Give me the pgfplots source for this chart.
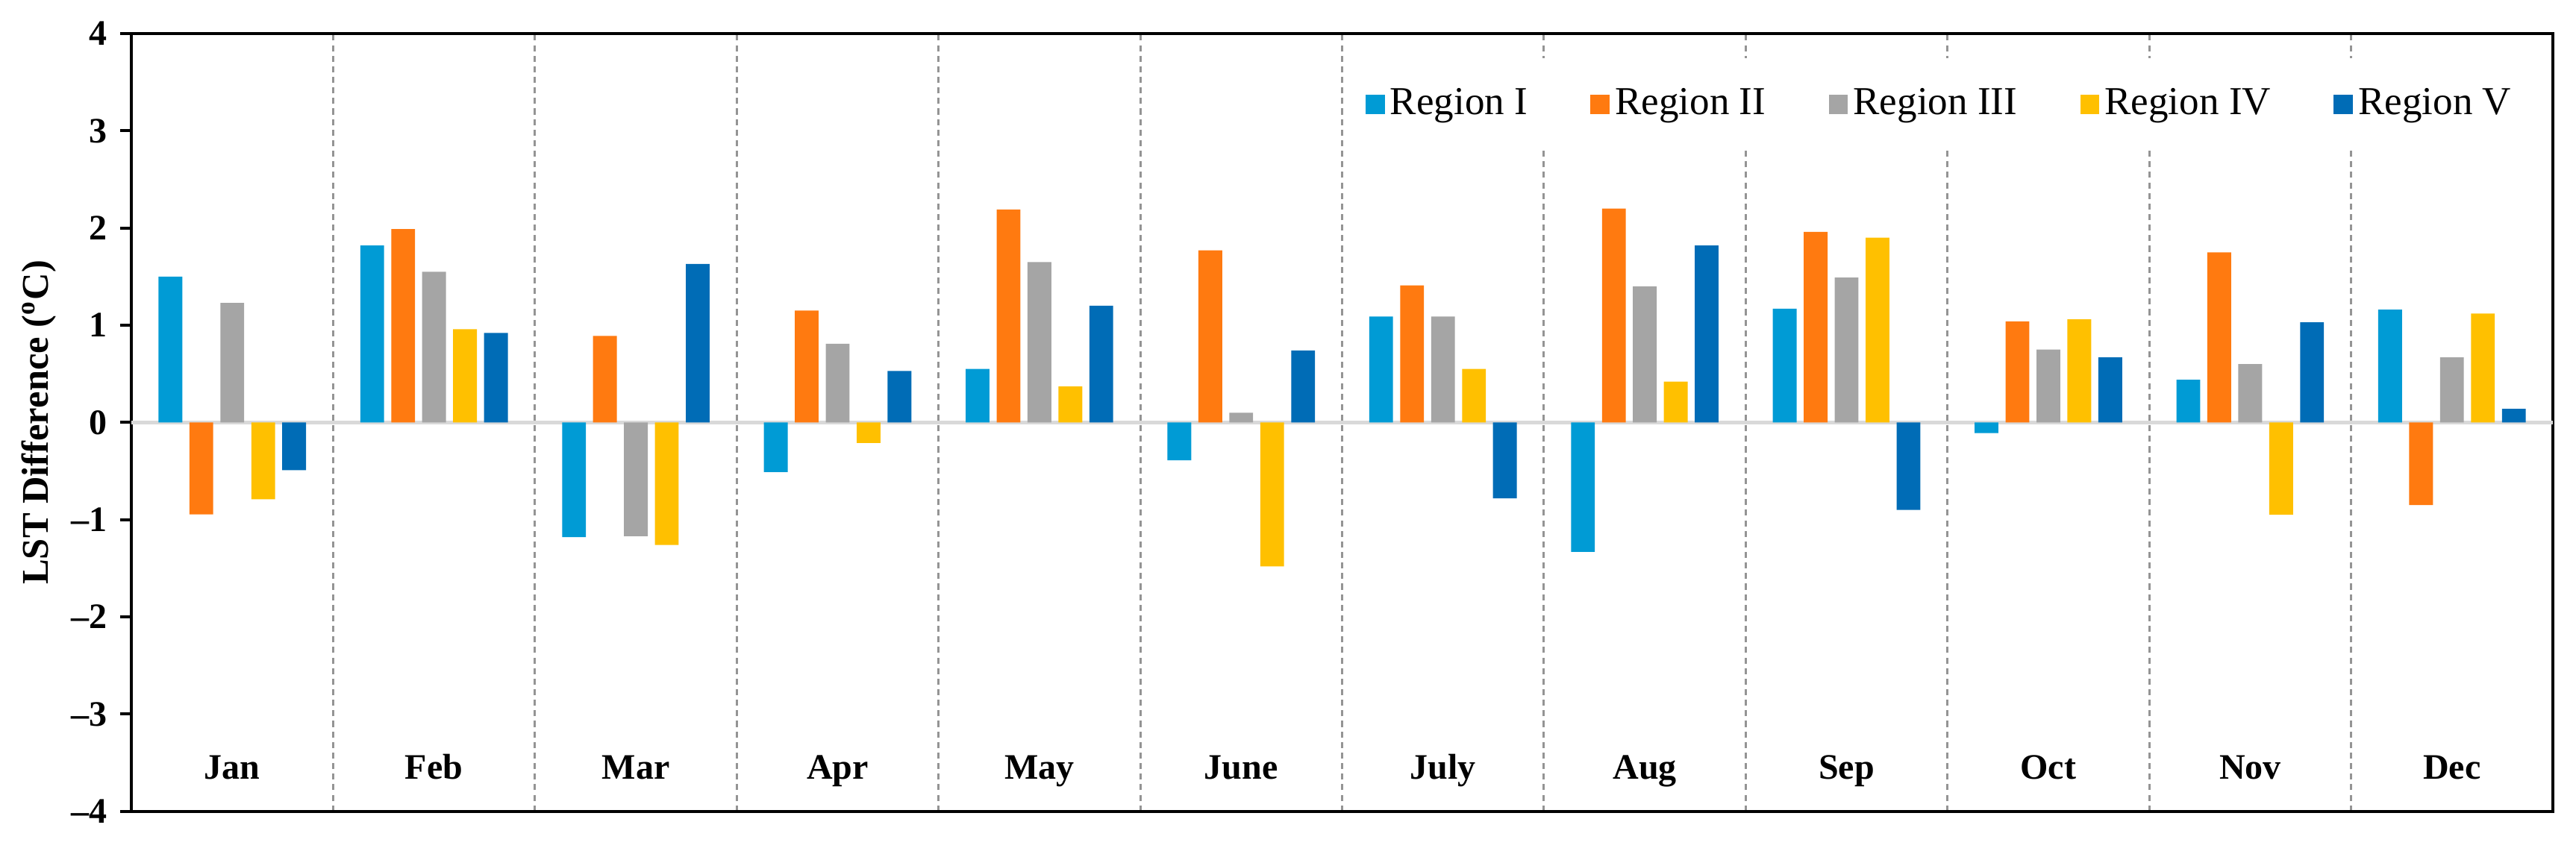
\documentclass[border=0pt]{standalone}
\usepackage{fontspec}
\setmainfont{Liberation Serif}
\usepackage{pgfplots}
\usepackage{pgfplotstable}
\pgfplotsset{compat=1.18}
\usetikzlibrary{calc}

\definecolor{rI}{HTML}{009BD5}
\definecolor{rII}{HTML}{FF7A10}
\definecolor{rIII}{HTML}{A5A5A5}
\definecolor{rIV}{HTML}{FFC000}
\definecolor{rV}{HTML}{006CB6}

\tikzset{monthlabel/.style={anchor=base, font=\fontsize{9.5}{11}\selectfont\bfseries}}

% month index, then Region I..V
\pgfplotstableread{
x  r1     r2     r3     r4     r5
0  1.50  -0.945  1.23  -0.79  -0.49
1  1.82   1.99   1.55   0.96   0.92
2 -1.18   0.89  -1.17  -1.26   1.63
3 -0.51   1.15   0.81  -0.21   0.53
4  0.55   2.19   1.65   0.37   1.20
5 -0.39   1.77   0.10  -1.48   0.74
6  1.09   1.41   1.09   0.55  -0.78
7 -1.33   2.20   1.40   0.42   1.82
8  1.17   1.96   1.49   1.90  -0.90
9 -0.11   1.04   0.75   1.06   0.67
10 0.44   1.75   0.60  -0.95   1.03
11 1.16  -0.85   0.67   1.12   0.14
}\lstdata

\begin{document}
\begin{tikzpicture}
\begin{axis}[
    scale only axis,
    width=22.56cm, height=7.25cm,
    ybar=1.9pt, bar width=6.3pt,
    xmin=-0.5, xmax=11.5,
    ymin=-4, ymax=4,
    xtick={0.5,1.5,...,10.5},
    xticklabels={},
    xtick style={draw=none},
    xmajorgrids,
    major x grid style={draw=black!42, line width=0.6pt, dash pattern=on 1.6pt off 1.2pt},
    ytick={-4,-3,...,4},
    yticklabels={–4,–3,–2,–1,0,1,2,3,4},
    yticklabel style={font=\fontsize{9.5}{11}\selectfont\bfseries},
    ytick pos=left,
    tick align=outside,
    major tick length=3pt,
    ytick style={black, line width=0.8pt},
    axis line style={black, line width=0.8pt},
    ylabel={\bfseries LST Difference (\textsuperscript{o}C)},
    ylabel style={font=\fontsize{10}{12}\selectfont, yshift=-3pt},
    legend columns=5,
    legend image code/.code={\fill[#1] (0pt,-2.6pt) rectangle (5.1pt,2.6pt);},
    legend style={
        at={(0.990,0.909)}, anchor=east,
        draw=none, fill=white,
        font=\fontsize{10.5}{12}\selectfont,
        inner ysep=6pt,
        nodes={inner xsep=1.4pt},
        /tikz/every even column/.append style={column sep=15.3pt},
    },
]
\draw[black!15, line width=1pt] (axis cs:-0.5,0) -- (axis cs:11.5,0);
\addplot[draw=none, fill=rI]   table[x=x, y=r1] {\lstdata};
\addplot[draw=none, fill=rII]  table[x=x, y=r2] {\lstdata};
\addplot[draw=none, fill=rIII] table[x=x, y=r3] {\lstdata};
\addplot[draw=none, fill=rIV]  table[x=x, y=r4] {\lstdata};
\addplot[draw=none, fill=rV]   table[x=x, y=r5] {\lstdata};
\legend{Region I, Region II, Region III, Region IV, Region V}

\foreach \m [count=\i from 0] in {Jan,Feb,Mar,Apr,May,June,July,Aug,Sep,Oct,Nov,Dec} {
    \edef\temp{\noexpand\node[monthlabel] at (axis cs:\i,-3.67) {\m};}
    \temp
}
\coordinate (sw) at (rel axis cs:0,0);
\coordinate (ne) at (rel axis cs:1,1);
\end{axis}
\pgfresetboundingbox
\path[use as bounding box] ($(sw)+(-1.224cm,-0.452cm)$) rectangle ($(ne)+(0.216cm,0.313cm)$);
\end{tikzpicture}
\end{document}
